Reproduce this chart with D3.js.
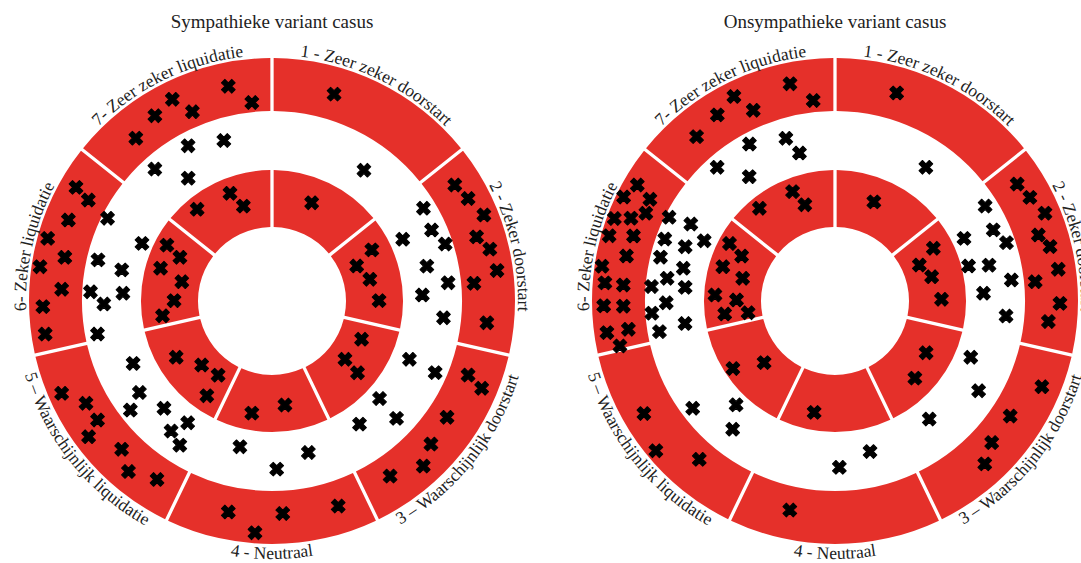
<!DOCTYPE html>
<html>
<head>
<meta charset="utf-8">
<script src="https://cdn.jsdelivr.net/npm/d3@7/dist/d3.min.js"></script>
<style>
  body { margin: 0; background: #fff; overflow: hidden; }
  text { font-family: "Liberation Serif", "Times New Roman", serif; fill: #222; }
</style>
</head>
<body>
<div id="chart"></div>
<script>
// categories around the circle, clockwise from 12 o'clock
var categories = [
  "1 - Zeer zeker doorstart",
  "2 - Zeker doorstart",
  "3 \u2013 Waarschijnlijk doorstart",
  "4 - Neutraal",
  "5 \u2013 Waarschijnlijk liquidatie",
  "6- Zeker liquidatie",
  "7- Zeer zeker liquidatie"
];
// labels written the other way round (bottom half)
var flippedLabels = [categories[2], categories[3], categories[4]];

var titles = ["Sympathieke variant casus", "Onsympathieke variant casus"];

// ring levels: 0-1 inner red ring, 1-2 white ring, 2-3 outer red ring
var redRings = [[0, 1], [2, 3]];

// crosses: [angle in degrees clockwise from top, ring level]
var sympOuter = [
  [348.5,2.55],[354.2,2.18],[333.7,2.66],[337.2,2.29],[327.7,2.55],[320.1,2.42],
  [16.7,2.49],
  [57.6,2.50],[62.4,2.59],[67.9,2.73],[72.6,2.46],[76.6,2.64],[82.3,2.70],[85.0,2.24],[95.8,2.49],
  [146.0,2.40],[137.5,2.64],[132.0,2.45],[123.6,2.38],[110.7,2.37],[112.6,2.70],
  [191.7,2.48],[184.2,2.80],[177.1,2.43],[162.1,2.48],
  [246.3,2.75],[241.2,2.42],[235.7,2.40],[233.5,2.72],[225.4,2.40],[220.1,2.62],[212.8,2.42],
  [300.1,2.69],[298.8,2.37],[291.7,2.55],[285.6,2.81],[281.9,2.41],[278.4,2.84],[273.2,2.39],[268.6,2.74],[261.7,2.74]
];
var sympMiddle = [
  [331.6,1.77],[343.3,1.62],[318.4,1.77],[325.7,1.30],[35.1,1.49],[296.7,1.90],
  [58.5,1.79],[66.0,1.74],[71.8,1.87],[64.7,1.23],[77.3,1.47],[84.1,1.78],[87.7,1.33],[95.6,1.70],
  [113.0,1.31],[113.7,1.80],[132.2,1.24],[133.3,1.68],[144.6,1.34],[166.5,1.42],
  [178.4,1.63],[192.4,1.31],[212.6,1.68],[217.8,1.57],[214.7,1.29],[225.2,1.36],[232.4,1.81],[235.4,1.51],
  [293.9,1.19],[283.3,1.81],[281.7,1.38],[272.9,1.86],[269.0,1.63],[273.0,1.31],[259.3,1.79],[245.8,1.36]
];
var sympInner = [
  [338.7,0.73],[343.2,0.44],[320.8,0.78],[22.0,0.56],
  [62.9,0.67],[67.5,0.31],[77.5,0.46],[89.8,0.58],
  [113.1,0.41],[128.6,0.34],[130.0,0.66],
  [172.9,0.54],[190.2,0.70],
  [239.6,0.65],[227.7,0.37],[216.0,0.31],[214.5,0.72],
  [298.0,0.79],[295.4,0.49],[286.4,0.74],[282.1,0.32],[270.2,0.42],[262.3,0.64]
];

var onsympOuter = [
  [348.3,2.60],[353.8,2.22],[333.7,2.72],[336.8,2.33],[327.7,2.57],[319.9,2.47],
  [16.5,2.51],
  [57.3,2.50],[62.0,2.58],[67.3,2.71],[72.0,2.45],[75.8,2.60],[81.9,2.67],[84.5,2.21],[90.6,2.66],[95.5,2.46],
  [112.5,2.64],[123.3,2.37],[132.1,2.40],[137.4,2.59],
  [192.2,2.45],
  [239.5,2.60],[230.1,2.82],[220.6,2.35],
  [300.4,2.74],[296.2,2.86],[298.8,2.40],[294.9,2.35],[290.5,2.86],[292.1,2.57],[286.1,2.85],[287.9,2.41],
  [282.2,2.44],[278.5,2.86],[274.5,2.77],[274.3,2.42],[268.8,2.78],[268.6,2.41],[262.1,2.76],[262.2,2.35],[258.2,2.56]
];
var onsympMiddle = [
  [331.4,1.81],[343.2,1.66],[346.5,1.36],[318.6,1.80],[325.4,1.34],[34.2,1.52],
  [57.7,1.79],[65.8,1.72],[71.2,1.85],[64.1,1.21],[75.3,1.12],[76.9,1.46],[83.2,1.79],[87.0,1.30],[95.0,1.69],
  [112.5,1.27],[122.0,1.65],[141.4,1.34],[166.9,1.40],[178.5,1.60],
  [218.6,1.56],[223.6,1.21],[233.0,1.80],
  [296.8,1.93],[298.1,1.55],[290.0,1.85],[289.9,1.48],[294.7,1.22],[284.1,1.83],[282.2,1.41],[277.7,1.65],
  [274.5,1.90],[275.2,1.33],[269.4,1.64],[266.2,1.89],[261.5,1.35],[260.1,1.80]
];
var onsympInner = [
  [338.8,0.76],[342.6,0.47],[320.8,0.80],[21.4,0.57],
  [61.8,0.66],[66.9,0.31],[75.9,0.45],[89.1,0.57],
  [119.6,0.54],[134.0,0.65],
  [190.6,0.69],
  [236.5,0.85],[229.0,0.35],
  [298.6,0.81],[295.7,0.52],[287.0,0.76],[283.8,0.37],[272.9,0.81],[270.6,0.43],[263.3,0.65],[262.3,0.24]
];

var panels = [
  { title: titles[0], crosses: sympOuter.concat(sympMiddle, sympInner), cx: 272 },
  { title: titles[1], crosses: onsympOuter.concat(onsympMiddle, onsympInner), cx: 835 }
];

var totalWidth = 1081,
    totalHeight = 563,
    cy = 301,
    red = "#e5302a";

var svg = d3.select("#chart")
    .append("svg")
    .attr("width", totalWidth)
    .attr("height", totalHeight);

var angle = d3.scaleBand()
    .domain(categories)
    .range([0, 2 * Math.PI])
    .paddingInner(0);

var crossAngle = d3.scaleLinear()
    .domain([0, 360])
    .range([0, 2 * Math.PI]);

var radius = d3.scaleLinear()
    .domain([0, 1, 2, 3])
    .range([74, 131, 190, 243]);

var arc = d3.arc()
    .padAngle(0.033)
    .padRadius(100);

var cross = d3.symbol(d3.symbolCross, 118);

function labelPath(cat, flipped) {
  var a0 = angle(cat), a1 = a0 + angle.bandwidth();
  var r = flipped ? 258 : 246;
  var p0 = d3.pointRadial(a0, r), p1 = d3.pointRadial(a1, r);
  if (flipped) {
    return "M" + p1 + "A" + r + "," + r + " 0 0 0 " + p0;
  }
  return "M" + p0 + "A" + r + "," + r + " 0 0 1 " + p1;
}

panels.forEach(function(panel, pi) {
  var g = svg.append("g")
      .attr("transform", "translate(" + panel.cx + "," + cy + ")");

  g.append("text")
      .attr("x", 0)
      .attr("y", 28 - cy)
      .attr("text-anchor", "middle")
      .style("font-size", "19px")
      .text(panel.title);

  redRings.forEach(function(ring) {
    g.append("g")
      .selectAll("path")
      .data(categories)
      .join("path")
      .attr("d", function(c) {
        return arc({
          innerRadius: radius(ring[0]),
          outerRadius: radius(ring[1]),
          startAngle: angle(c),
          endAngle: angle(c) + angle.bandwidth()
        });
      })
      .style("fill", red);
  });

  g.append("g")
    .selectAll("path")
    .data(categories)
    .join("path")
    .attr("id", function(c, i) { return "lbl-" + pi + "-" + i; })
    .attr("d", function(c) { return labelPath(c, flippedLabels.indexOf(c) >= 0); })
    .style("fill", "none");

  g.append("g")
    .selectAll("text")
    .data(categories)
    .join("text")
    .style("font-size", "17.5px")
    .append("textPath")
    .attr("href", function(c, i) { return "#lbl-" + pi + "-" + i; })
    .attr("startOffset", "50%")
    .attr("text-anchor", "middle")
    .text(function(c) { return c; });

  g.append("g")
    .selectAll("path")
    .data(panel.crosses)
    .join("path")
    .attr("d", cross)
    .attr("transform", function(d) {
      var p = d3.pointRadial(crossAngle(d[0]), radius(d[1]));
      return "translate(" + p + ") rotate(45)";
    })
    .style("fill", "#000")
    .style("stroke", "#000")
    .style("stroke-width", 1)
    .style("stroke-linejoin", "round");
});
</script>
</body>
</html>
